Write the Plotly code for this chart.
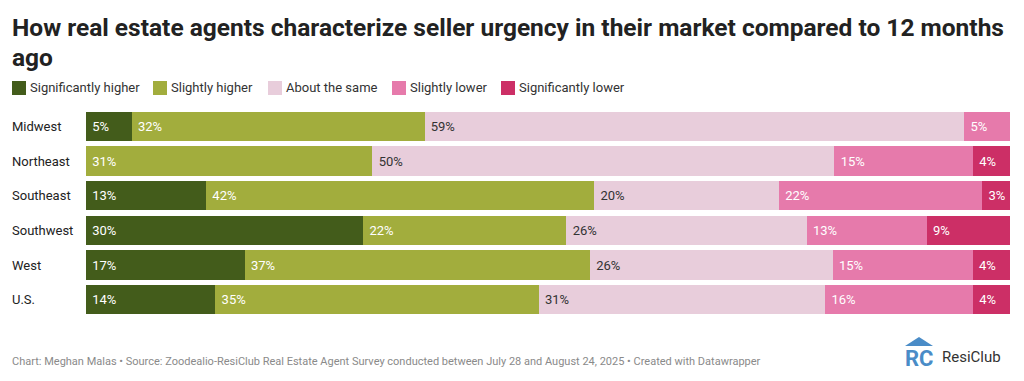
import plotly.graph_objects as go

regions = ["Midwest", "Northeast", "Southeast", "Southwest", "West", "U.S."]
series_names = ["Significantly higher", "Slightly higher", "About the same", "Slightly lower", "Significantly lower"]
sig_higher = [5, 0, 13, 30, 17, 14]
sl_higher = [32, 31, 42, 22, 37, 35]
same = [59, 50, 20, 26, 26, 31]
sl_lower = [5, 15, 22, 13, 15, 16]
sig_lower = [0, 4, 3, 9, 4, 4]
values = [sig_higher, sl_higher, same, sl_lower, sig_lower]
colors = ["#435c1b", "#a2ad3d", "#e8cddb", "#e67aab", "#cc2f66"]
text_colors = ["#ffffff", "#ffffff", "#333333", "#ffffff", "#ffffff"]

W, H = 1024, 381
L, R, T, B = 86, 14, 109, 64
pw = W - L - R
ph = H - T - B


def px_x(x):
    return (x - L) / pw


def px_y(y):
    return 1 - (y - T) / ph


fig = go.Figure()
for name, vals, c, tc in zip(series_names, values, colors, text_colors):
    fig.add_trace(go.Bar(
        y=regions, x=vals, name=name, orientation="h",
        marker=dict(color=c, line=dict(width=0)),
        text=[str(v) if v > 0 else "" for v in vals],
        texttemplate=["\u00a0%{text}%" if v > 0 else "" for v in vals],
        textposition="inside", insidetextanchor="start",
        textangle=0, constraintext="none",
        textfont=dict(family="Roboto", size=13, color=tc),
        hoverinfo="skip", showlegend=False,
    ))

# row labels
for r in regions:
    fig.add_annotation(x=px_x(10), xref="paper", y=r, yref="y",
                       text=r, showarrow=False, xanchor="left",
                       font=dict(family="Roboto", size=13, color="#222222"))

# manual legend
legend_x = [12, 153, 268, 392, 501]
for lx, name, c in zip(legend_x, series_names, colors):
    fig.add_shape(type="rect", xref="paper", yref="paper",
                  x0=px_x(lx), x1=px_x(lx + 14), y0=px_y(81), y1=px_y(95),
                  fillcolor=c, line=dict(width=0))
    fig.add_annotation(x=px_x(lx + 16), xref="paper", y=px_y(88), yref="paper",
                       text=name, showarrow=False, xanchor="left", yanchor="middle",
                       font=dict(family="Roboto", size=13, color="#333333"))

# title (two lines)
fig.add_annotation(x=px_x(10), xref="paper", y=px_y(27), yref="paper",
                   text="<b>How real estate agents characterize seller urgency in their market compared to 12 months</b>",
                   showarrow=False, xanchor="left", yanchor="middle",
                   font=dict(family="Roboto", size=24.5, color="#222222"))
fig.add_annotation(x=px_x(10), xref="paper", y=px_y(57), yref="paper",
                   text="<b>ago</b>",
                   showarrow=False, xanchor="left", yanchor="middle",
                   font=dict(family="Roboto", size=24.5, color="#222222"))

# footer
fig.add_annotation(x=px_x(10), xref="paper", y=px_y(361), yref="paper",
                   text="Chart: Meghan Malas • Source: Zoodealio-ResiClub Real Estate Agent Survey conducted between July 28 and August 24, 2025 • Created with Datawrapper",
                   showarrow=False, xanchor="left", yanchor="middle",
                   font=dict(family="Roboto", size=11, color="#8a8a8a"))

# logo
fig.add_shape(type="path", xref="paper", yref="paper",
              path=f"M {px_x(905)},{px_y(346)} L {px_x(919)},{px_y(337)} L {px_x(933)},{px_y(346)} Z",
              fillcolor="#4a8cc7", line=dict(width=0))
fig.add_annotation(x=px_x(919), xref="paper", y=px_y(358), yref="paper",
                   text="<b>RC</b>", showarrow=False, xanchor="center", yanchor="middle",
                   font=dict(family="Roboto", size=22, color="#4a8cc7"))
fig.add_annotation(x=px_x(940), xref="paper", y=px_y(357), yref="paper",
                   text="ResiClub", showarrow=False, xanchor="left", yanchor="middle",
                   font=dict(family="Roboto", size=15, color="#333333"))

fig.update_layout(
    width=W, height=H,
    margin=dict(l=L, r=R, t=T, b=B),
    barmode="stack", barnorm="percent", bargap=0.153,
    paper_bgcolor="white", plot_bgcolor="white",
    showlegend=False,
    xaxis=dict(visible=False, range=[0, 100], fixedrange=True),
    yaxis=dict(visible=False, autorange="reversed", fixedrange=True),
)

fig.write_html("out.html", config={"displayModeBar": False},
               post_script="document.body.style.margin='0';")
